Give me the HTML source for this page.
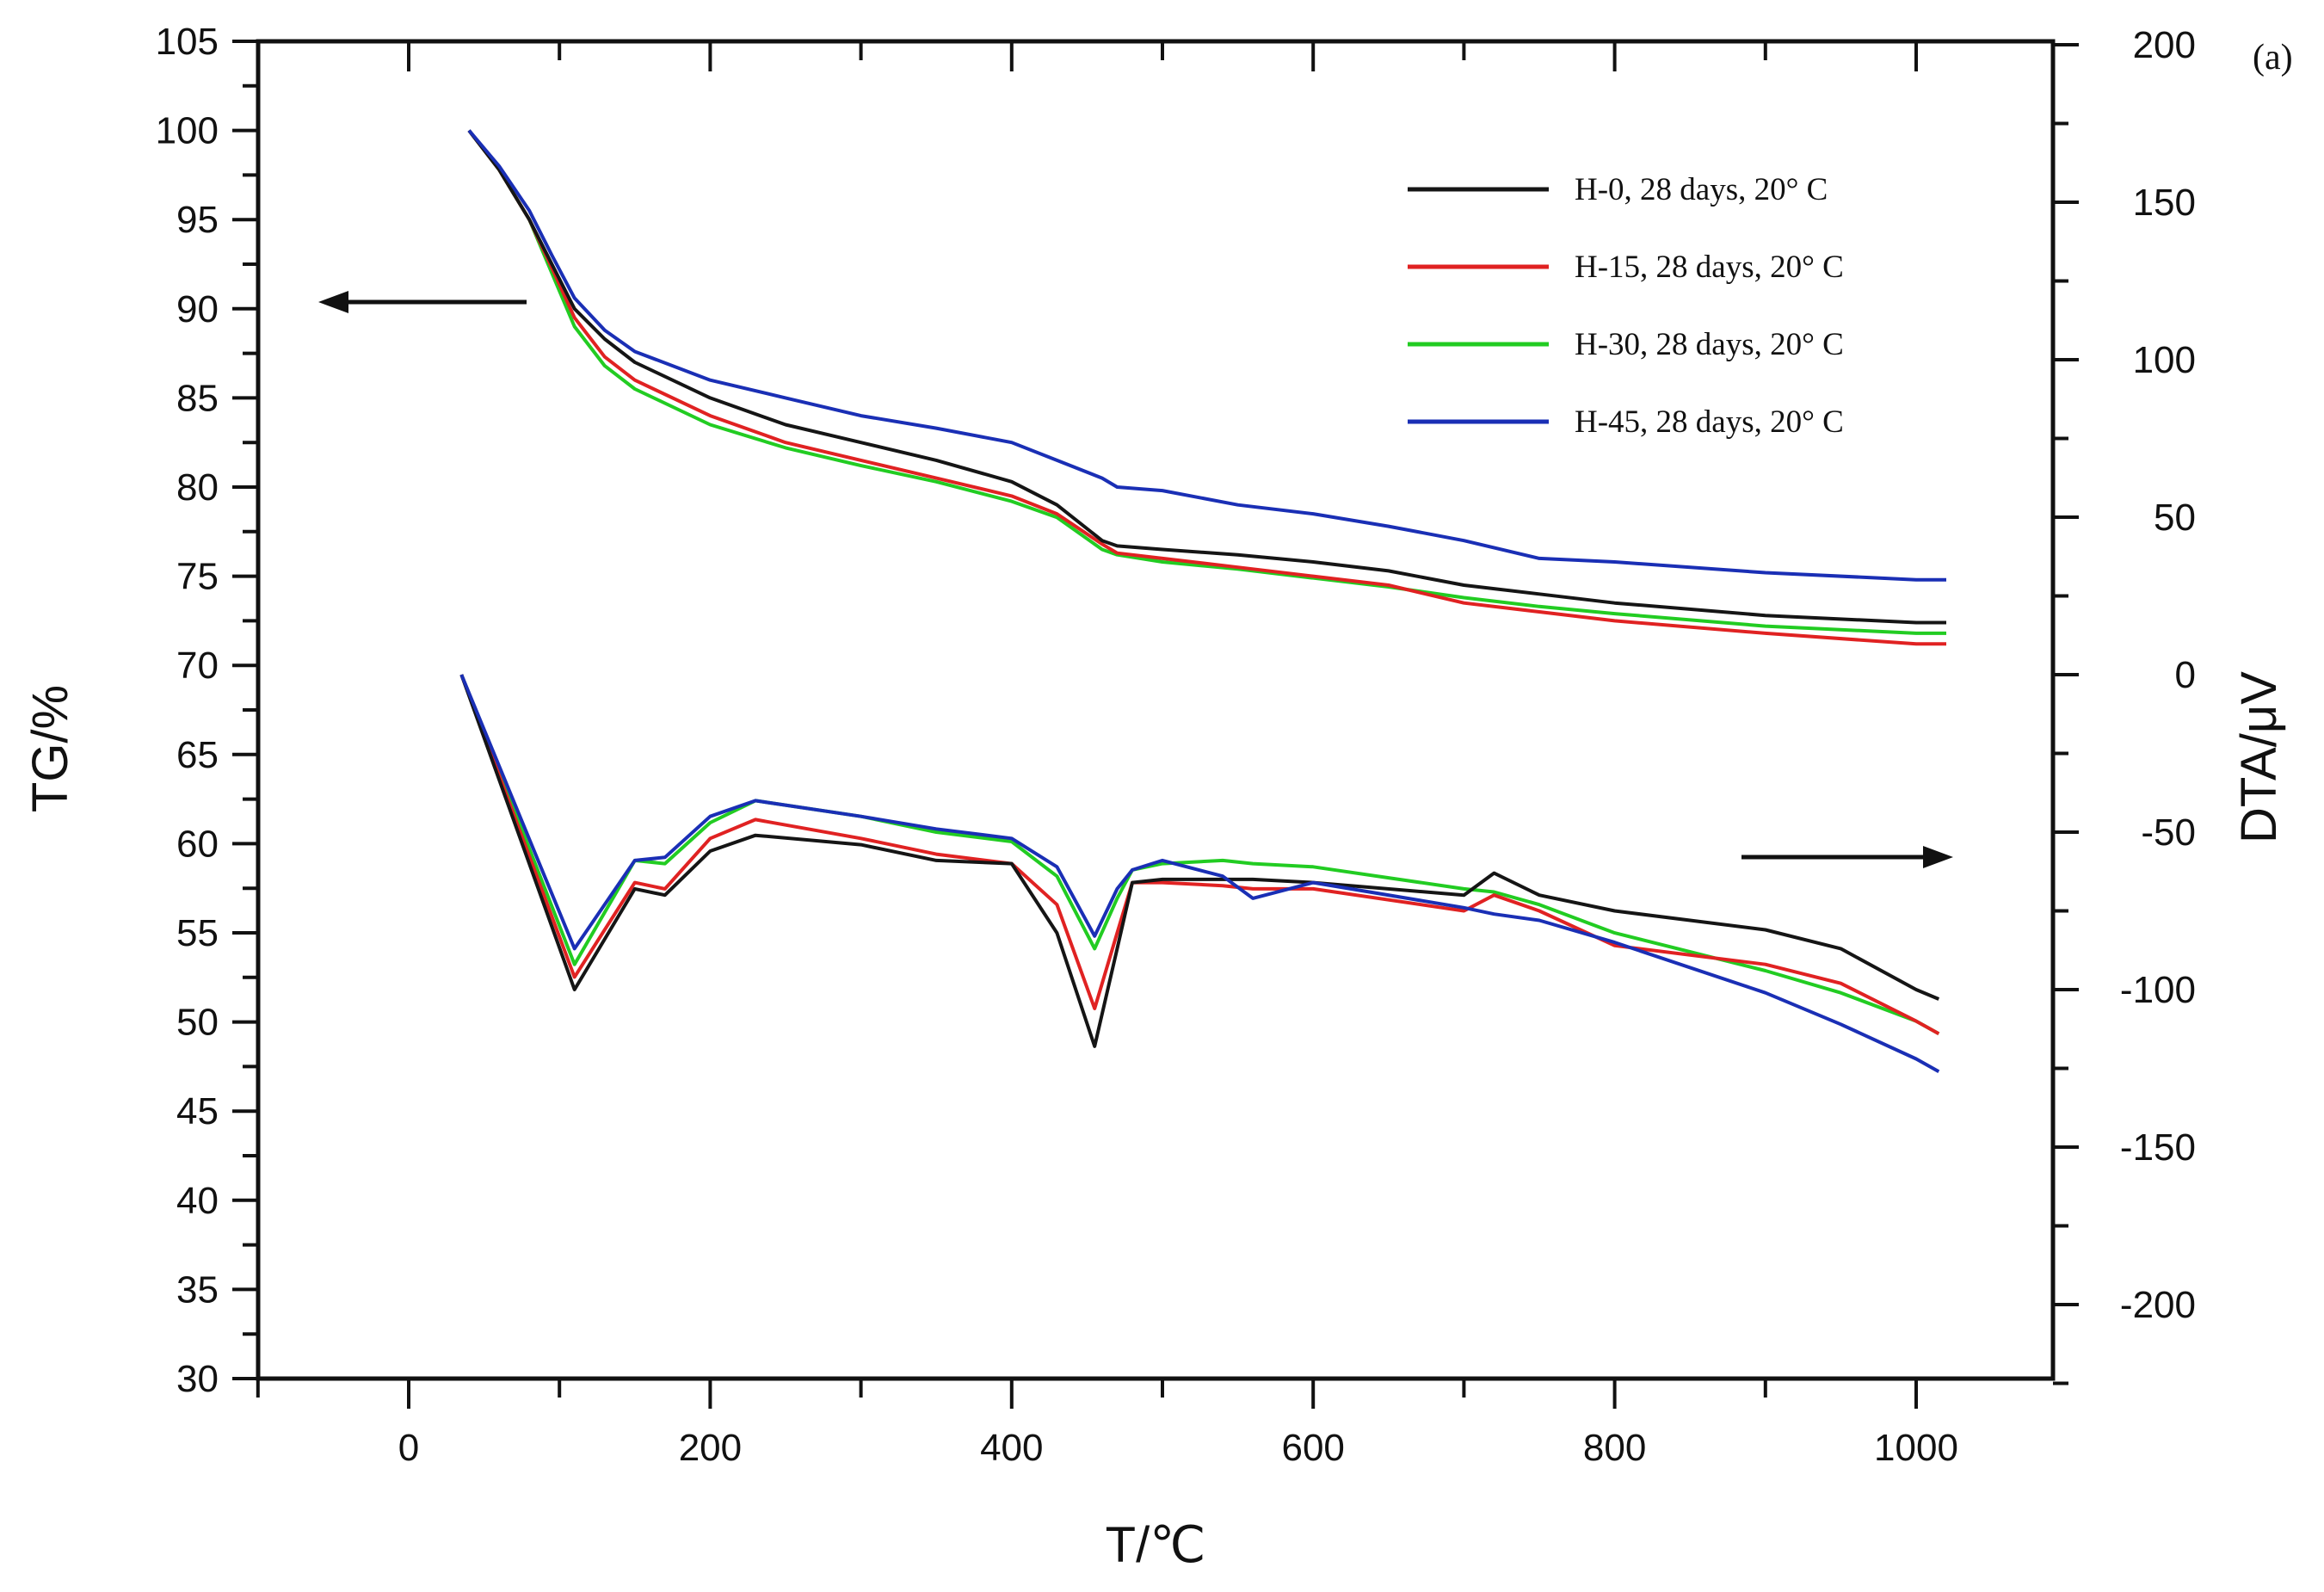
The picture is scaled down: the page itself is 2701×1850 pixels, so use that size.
<!DOCTYPE html>
<html><head><meta charset="utf-8"><style>
html,body{margin:0;padding:0;background:#fff;}
svg{display:block;}
text{font-family:"Liberation Sans",sans-serif;fill:#111;}
.serif{font-family:"Liberation Serif",serif;}
</style></head><body>
<svg id="chart" width="2701" height="1850" viewBox="0 0 2701 1850" xmlns="http://www.w3.org/2000/svg">
<g id="axes"></g>
<g id="series"></g>
<g id="legend"></g>
</svg>
<script>
const xTicks=[0,200,400,600,800,1000];
const tgTicks=[30,35,40,45,50,55,60,65,70,75,80,85,90,95,100,105];
const dtaTicks=[200,150,100,50,0,-50,-100,-150,-200];
const seriesNames=["H-0, 28 days, 20° C","H-15, 28 days, 20° C","H-30, 28 days, 20° C","H-45, 28 days, 20° C"];
const seriesColors=["#151515","#e02222","#22cc22","#1a2fb5"];
const tgT=[40,60,80,95,110,130,150,200,250,300,350,400,430,460,470,500,550,600,650,700,750,800,900,1000,1020];
const tgH0=[100,97.8,95,92.5,90,88.3,87,85,83.5,82.5,81.5,80.3,79,77,76.7,76.5,76.2,75.8,75.3,74.5,74,73.5,72.8,72.4,72.4];
const tgH15=[100,97.8,95,92.3,89.5,87.3,86,84,82.5,81.5,80.5,79.5,78.5,76.8,76.3,76,75.5,75,74.5,73.5,73,72.5,71.8,71.2,71.2];
const tgH30=[100,97.8,95,92,89,86.8,85.5,83.5,82.2,81.2,80.3,79.2,78.3,76.5,76.2,75.8,75.4,74.9,74.4,73.8,73.3,72.9,72.2,71.8,71.8];
const tgH45=[100,98,95.5,93,90.6,88.8,87.6,86,85,84,83.3,82.5,81.5,80.5,80,79.8,79,78.5,77.8,77,76,75.8,75.2,74.8,74.8];
const dtaT=[35,110,150,170,200,230,300,350,400,430,455,470,480,500,540,560,600,700,720,750,800,900,950,1000,1015];
const dtaH0=[0,-100,-68,-70,-56,-51,-54,-59,-60,-82,-118,-87,-66,-65,-65,-65,-66,-70,-63,-70,-75,-81,-87,-100,-103];
const dtaH15=[0,-96,-66,-68,-52,-46,-52,-57,-60,-73,-106,-82,-66,-66,-67,-68,-68,-75,-70,-75,-86,-92,-98,-110,-114];
const dtaH30=[0,-92,-59,-60,-47,-40,-45,-50,-53,-64,-87,-71,-62,-60,-59,-60,-61,-68,-69,-73,-82,-94,-101,-110,-114];
const dtaH45=[0,-87,-59,-58,-45,-40,-45,-49,-52,-61,-83,-68,-62,-59,-64,-71,-66,-74,-76,-78,-85,-101,-111,-122,-126];

const NS="http://www.w3.org/2000/svg";
const L=300,R=2386,T=48,B=1602;
const sx=v=>475+v*1.752;
const sy=v=>48+(105-v)*(1554/75);
const sy2=v=>52+(200-v)*(1464/400);
function mk(tag,attrs,parent,txt){const e=document.createElementNS(NS,tag);for(const k in attrs)e.setAttribute(k,attrs[k]);if(txt!==undefined)e.textContent=txt;parent.appendChild(e);return e;}
const ax=document.getElementById('axes');
let e;
e=mk('rect',{x:L,y:T,width:R-L,height:B-T,fill:'none',stroke:'#111','stroke-width':5},ax);

for(let v=-100;v<=1000;v+=100){
  const major=v%200===0;
  e=mk('line',{x1:sx(v),x2:sx(v),y1:B,y2:B+(major?35:22),stroke:'#111','stroke-width':4},ax);
  
  e=mk('line',{x1:sx(v),x2:sx(v),y1:T,y2:T+(major?35:22),stroke:'#111','stroke-width':4},ax);
  
}
xTicks.forEach(v=>{e=mk('text',{x:sx(v),y:1697,'font-size':44,'text-anchor':'middle'},ax,String(v));
  });
for(let v=30;v<=105;v+=2.5){
  const major=v%5===0;
  e=mk('line',{x1:L-(major?30:18),x2:L,y1:sy(v),y2:sy(v),stroke:'#111','stroke-width':4},ax);
  
}
tgTicks.forEach(v=>{e=mk('text',{x:254,y:sy(v)+15,'font-size':44,'text-anchor':'end'},ax,String(v));
  });
for(let v=-225;v<=200;v+=25){
  const major=v%50===0;
  e=mk('line',{x1:R,x2:R+(major?30:18),y1:sy2(v),y2:sy2(v),stroke:'#111','stroke-width':4},ax);
  
}
dtaTicks.forEach(v=>{e=mk('text',{x:2552,y:sy2(v)+15,'font-size':44,'text-anchor':'end'},ax,v<0?'-'+Math.abs(v):String(v));
  });
e=mk('text',{x:0,y:0,'font-size':58,'text-anchor':'middle',transform:'translate(78,870) rotate(-90)'},ax,'TG/%');

e=mk('text',{x:0,y:0,'font-size':58,'text-anchor':'middle',transform:'translate(2645,880) rotate(-90)'},ax,'DTA/μV');

e=mk('text',{x:1343,y:1815,'font-size':58,'text-anchor':'middle'},ax,'T/℃');

e=mk('text',{x:2618,y:80,'font-size':42,'class':'serif'},ax,'(a)');

e=mk('line',{x1:612,x2:385,y1:351,y2:351,stroke:'#111','stroke-width':5},ax);

e=mk('polygon',{points:'370,351 405,338 405,364',fill:'#111'},ax);

e=mk('line',{x1:2024,x2:2250,y1:996,y2:996,stroke:'#111','stroke-width':5},ax);

e=mk('polygon',{points:'2270,996 2235,983 2235,1009',fill:'#111'},ax);

const sg=document.getElementById('series');
const tgData=[tgH0,tgH15,tgH30,tgH45];
const dtaData=[dtaH0,dtaH15,dtaH30,dtaH45];
const order=[2,1,0,3];
order.forEach(i=>{
  let d=tgT.map((t,k)=>(k?'L':'M')+sx(t).toFixed(1)+','+sy(tgData[i][k]).toFixed(1)).join(' ');
  e=mk('path',{d:d,fill:'none',stroke:seriesColors[i],'stroke-width':4,'stroke-linejoin':'round'},sg);
  
});
order.forEach(i=>{
  let d=dtaT.map((t,k)=>(k?'L':'M')+sx(t).toFixed(1)+','+sy2(dtaData[i][k]).toFixed(1)).join(' ');
  e=mk('path',{d:d,fill:'none',stroke:seriesColors[i],'stroke-width':4,'stroke-linejoin':'round'},sg);
  
});
const lg=document.getElementById('legend');
seriesNames.forEach((n,i)=>{
  const y=220+i*90;
  e=mk('line',{x1:1636,x2:1800,y1:y,y2:y,stroke:seriesColors[i],'stroke-width':5},lg);
  
  e=mk('text',{x:1830,y:y+12,'font-size':37,'class':'serif'},lg,n);
  
});
</script>
</body></html>
